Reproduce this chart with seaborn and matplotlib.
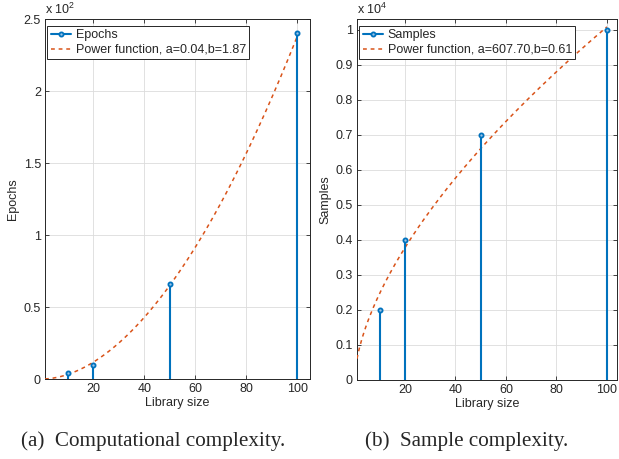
import numpy as np
import pandas as pd
import seaborn as sns
import matplotlib
matplotlib.use("Agg")
import matplotlib.pyplot as plt
from matplotlib.lines import Line2D

# data
library_size = [10, 20, 50, 100]
epochs = [4, 10, 66, 240]            # x 10^2 on the axis
samples = [2000, 4000, 7000, 10000]  # x 10^4 on the axis

# fitted power functions y = a * x^b
fit_epochs = (0.0433, 1.87)
fit_samples = (607.70, 0.61)
fit_x = np.linspace(1, 100, 200)

blue = "#0072BD"
orange = "#D95319"

sns.set_style("whitegrid")
plt.rcParams["font.family"] = ["Liberation Sans", "DejaVu Sans"]
plt.rcParams["mathtext.fontset"] = "custom"
plt.rcParams["mathtext.rm"] = "Liberation Sans"

fig = plt.figure(figsize=(6.19, 4.59), dpi=100)
ax1 = fig.add_axes([45 / 619, 1 - 379 / 459, 265 / 619, 360 / 459])
ax2 = fig.add_axes([357 / 619, 1 - 380 / 459, 260 / 619, 361 / 459])


def draw(ax, y, scale, fit, name, ylim, yticks, exp):
    a, b = fit
    df = pd.DataFrame({"x": fit_x, "y": a * fit_x ** b / scale})
    sns.lineplot(data=df, x="x", y="y", ax=ax, color=orange, lw=1.1,
                 dashes=False, linestyle=(0, (2.5, 2.5)), zorder=3)
    vals = np.array(y) / scale
    ax.vlines(library_size, 0, vals, color=blue, lw=1.5, zorder=4)
    sns.scatterplot(x=library_size, y=vals, ax=ax, marker="o", s=9,
                    facecolor="#9cc3e6", edgecolor=blue, linewidth=1.3, zorder=5)
    ax.set_xlim(1, 105 if scale == 100 else 104)
    ax.set_ylim(*ylim)
    ax.set_xticks([20, 40, 60, 80, 100])
    ax.set_yticks(yticks)
    ax.set_yticklabels([f"{t:g}" for t in yticks])
    ax.set_xlabel("Library size", fontsize=9, labelpad=1)
    ax.set_ylabel(name, fontsize=9, labelpad=3)
    ax.tick_params(direction="in", length=3, width=0.6, labelsize=9,
                   top=True, right=True, bottom=True, left=True, pad=3,
                   colors="#262626")
    ax.grid(True, color="#dcdcdc", lw=0.6)
    for s in ax.spines.values():
        s.set_color("#262626")
        s.set_linewidth(0.7)
    ax.text(0, 1.006, "x 10$^{%d}$" % exp, transform=ax.transAxes,
            fontsize=9, ha="left", va="bottom")
    handles = [
        Line2D([], [], color=blue, lw=1.5, marker="o", markersize=3,
               markerfacecolor="#9cc3e6", markeredgewidth=1.3),
        Line2D([], [], color=orange, lw=1.1, linestyle=(0, (2.5, 2.5))),
    ]
    labels = [name, f"Power function, a={a:.2f},b={b:.2f}"]
    leg = ax.legend(handles, labels, loc="upper left", fontsize=9,
                    frameon=True, fancybox=False, edgecolor="#262626",
                    borderaxespad=0.15, handlelength=1.6, handletextpad=0.4,
                    borderpad=0.25, labelspacing=0.2,
                    bbox_to_anchor=(0.002, 0.985))
    leg.get_frame().set_linewidth(0.7)
    leg.get_frame().set_alpha(1)


draw(ax1, epochs, 100, fit_epochs, "Epochs", (0, 2.5),
     [0, 0.5, 1, 1.5, 2, 2.5], 2)
draw(ax2, samples, 10000, fit_samples, "Samples", (0, 1.031),
     [round(0.1 * i, 1) for i in range(11)], 4)

cap = dict(fontsize=15.2, family=["Liberation Serif", "DejaVu Serif"],
           va="center", ha="left")
fig.text(21 / 619, 1 - 441 / 459, "(a)  Computational complexity.", **cap)
fig.text(365 / 619, 1 - 441 / 459, "(b)  Sample complexity.", **cap)

fig.savefig("out.png", dpi=100)
